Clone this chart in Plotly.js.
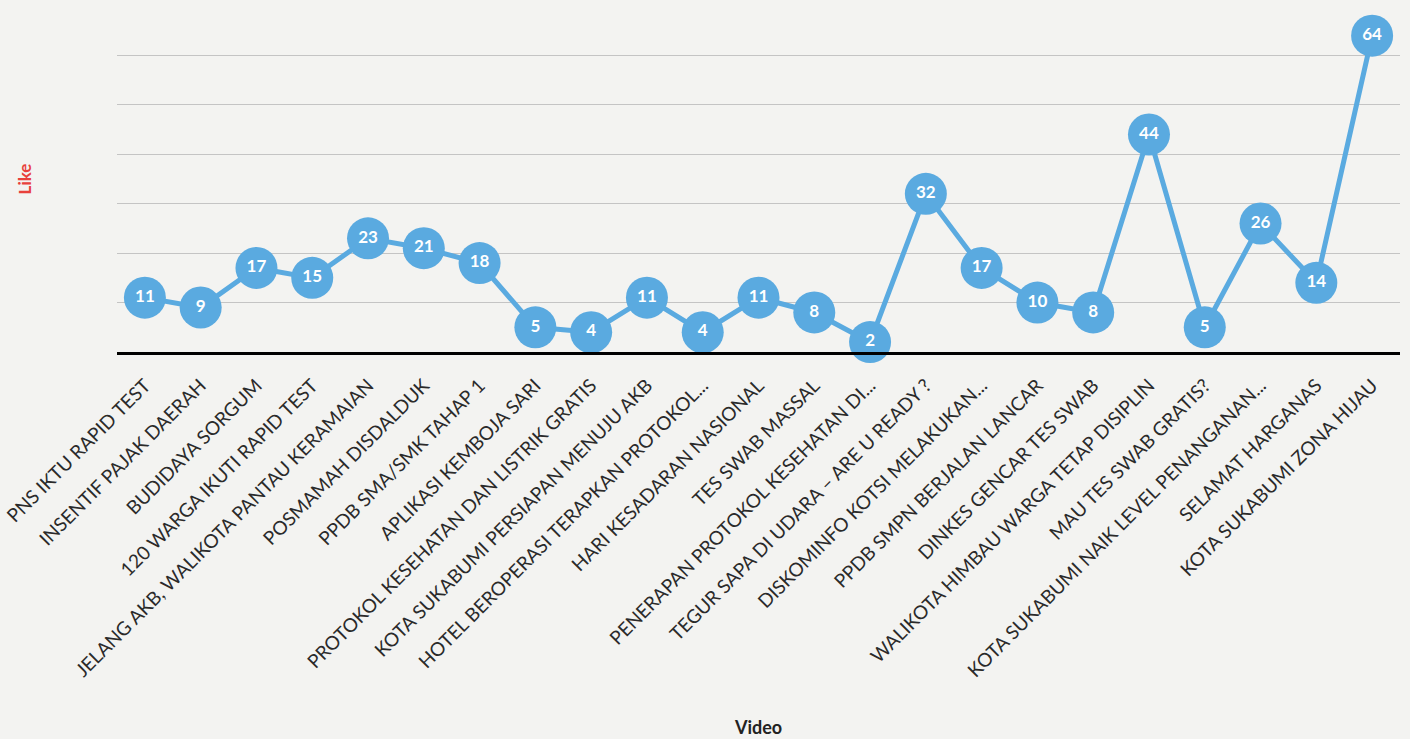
<!DOCTYPE html>
<html>
<head>
<meta charset="utf-8">
<script src="https://cdn.plot.ly/plotly-3.0.1.min.js"></script>
<style>html,body{margin:0;padding:0;background:#f3f3f1;}#chart{width:1410px;height:739px;}</style>
</head>
<body>
<div id="chart"></div>
<script>
const videos = [
  "PNS IKTU RAPID TEST",
  "INSENTIF PAJAK DAERAH",
  "BUDIDAYA SORGUM",
  "120 WARGA IKUTI RAPID TEST",
  "JELANG AKB, WALIKOTA PANTAU KERAMAIAN",
  "POSMAMAH DISDALDUK",
  "PPDB SMA/SMK TAHAP 1",
  "APLIKASI KEMBOJA SARI",
  "PROTOKOL KESEHATAN DAN LISTRIK GRATIS",
  "KOTA SUKABUMI PERSIAPAN MENUJU AKB",
  "HOTEL BEROPERASI TERAPKAN PROTOKOL...",
  "HARI KESADARAN NASIONAL",
  "TES SWAB MASSAL",
  "PENERAPAN PROTOKOL KESEHATAN DI...",
  "TEGUR SAPA DI UDARA – ARE U READY ?",
  "DISKOMINFO KOTSI MELAKUKAN...",
  "PPDB SMPN BERJALAN LANCAR",
  "DINKES GENCAR TES SWAB",
  "WALIKOTA HIMBAU WARGA TETAP DISIPLIN",
  "MAU TES SWAB GRATIS?",
  "KOTA SUKABUMI NAIK LEVEL PENANGANAN...",
  "SELAMAT HARGANAS",
  "KOTA SUKABUMI ZONA HIJAU"
];
const likes = [11, 9, 17, 15, 23, 21, 18, 5, 4, 11, 4, 11, 8, 2, 32, 17, 10, 8, 44, 5, 26, 14, 64];

const trace = {
  x: videos,
  y: likes,
  type: 'scatter',
  mode: 'lines+markers+text',
  text: likes.map(String),
  textposition: 'middle center',
  textfont: {family: 'Lato, sans-serif', size: 17, color: '#ffffff', weight: 'bold'},
  line: {color: '#5aaae0', width: 5},
  marker: {color: '#5aaae0', size: 42, line: {width: 0}},
  cliponaxis: false,
  hoverinfo: 'x+y'
};

const layout = {
  width: 1410, height: 739,
  paper_bgcolor: '#f3f3f1',
  plot_bgcolor: 'rgba(0,0,0,0)',
  margin: {l: 117, r: 10, t: 6, b: 387},
  showlegend: false,
  font: {family: 'Lato, sans-serif', color: '#2a2a2a'},
  xaxis: {
    type: 'category',
    range: [-0.5, 22.5],
    tickangle: -45,
    tickfont: {family: 'Lato, sans-serif', size: 19, color: '#2a2a2a'},
    ticks: 'outside',
    ticklen: 12,
    tickcolor: 'rgba(0,0,0,0)',
    showgrid: false,
    showline: true,
    linecolor: '#000000',
    linewidth: 3,
    title: {text: 'Video', font: {family: 'Lato, sans-serif', size: 18, color: '#222', weight: 'bold'}, standoff: 42}
  },
  yaxis: {
    range: [0, 70],
    dtick: 10,
    showticklabels: false,
    ticks: '',
    showgrid: true,
    gridcolor: '#c4c4c4',
    gridwidth: 1,
    zeroline: false,
    title: {text: 'Like', font: {family: 'Lato, sans-serif', size: 17, color: '#e8413c', weight: 'bold'}, standoff: 80}
  }
};

Plotly.newPlot('chart', [trace], layout, {displayModeBar: false, staticPlot: true});
</script>
</body>
</html>
